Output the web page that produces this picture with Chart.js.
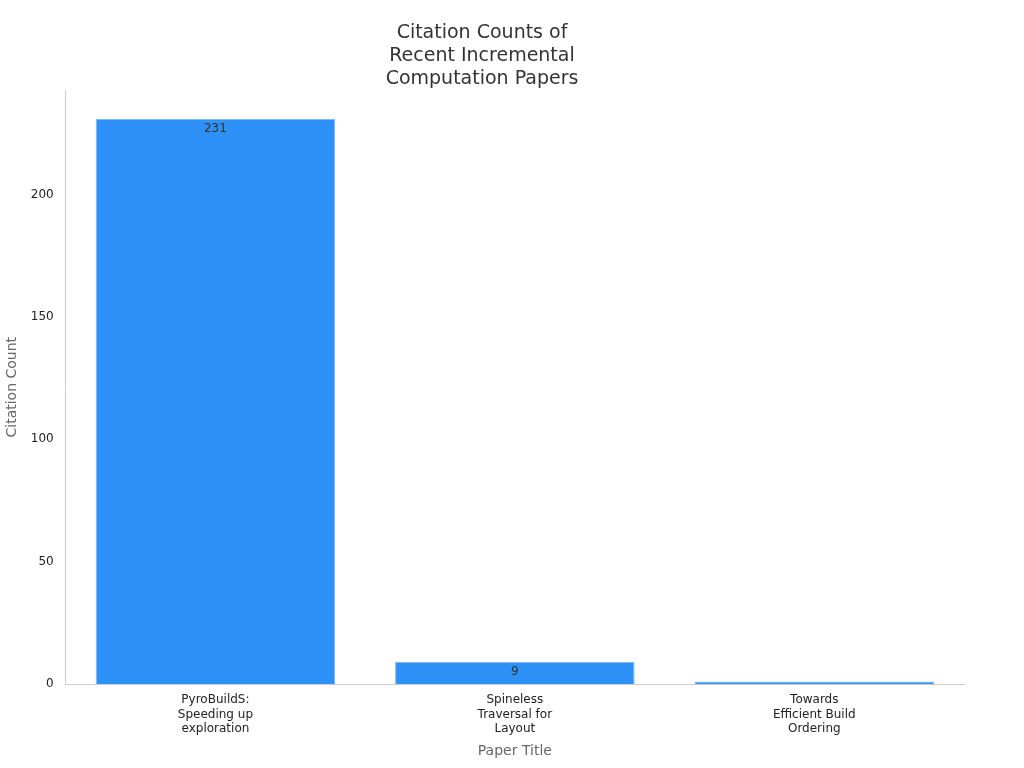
<!DOCTYPE html>
<html>
<head>
<meta charset="utf-8">
<script src="https://cdn.jsdelivr.net/npm/chart.js@4"></script>
<style>
  body { margin: 0; background: #fff; }
</style>
</head>
<body>
<canvas id="myChart" width="1024" height="768"></canvas>
<script>
var categories = [["PyroBuildS:", "Speeding up", "exploration"], ["Spineless", "Traversal for", "Layout"], ["Towards", "Efficient Build", "Ordering"]];
var citations = [231, 9, 1];
var yTicks = [0, 50, 100, 150, 200];

// draws the value just inside the top of each bar (skipped when the bar is too short)
var barLabels = {
  id: "barLabels",
  afterDatasetsDraw(chart) {
    var ctx = chart.ctx;
    var meta = chart.getDatasetMeta(0);
    ctx.save();
    ctx.fillStyle = "#333";
    ctx.font = "12px 'DejaVu Sans'";
    ctx.textAlign = "center";
    ctx.textBaseline = "top";
    meta.data.forEach(function (bar, i) {
      if (bar.base - bar.y < 14) return;
      ctx.fillText(citations[i], bar.x, bar.y + 4);
    });
    ctx.restore();
  }
};

new Chart("myChart", {
  type: "bar",
  data: {
    labels: categories,
    datasets: [{
      data: citations,
      backgroundColor: "#2e91f8",
      borderColor: "#7fb9f5",
      borderWidth: 1,
      barPercentage: 0.8,
      categoryPercentage: 1
    }]
  },
  options: {
    responsive: false,
    animation: false,
    layout: { padding: { left: 0, right: 60, top: 10, bottom: 4 } },
    plugins: {
      legend: { display: false },
      tooltip: { enabled: false },
      title: {
        display: true,
        text: ["Citation Counts of", "Recent Incremental", "Computation Papers"],
        color: "#333",
        font: { family: "DejaVu Sans", size: 19, weight: "normal" },
        padding: { top: 12, bottom: 0 }
      }
    },
    scales: {
      x: {
        grid: { display: false, drawTicks: true, tickLength: 6, tickColor: "#555" },
        border: { color: "#ccc" },
        ticks: { color: "#222", font: { family: "DejaVu Sans", size: 12 }, maxRotation: 0 },
        title: { display: true, text: "Paper Title", color: "#666", font: { family: "DejaVu Sans", size: 14 } }
      },
      y: {
        min: 0,
        max: 242.55,
        afterBuildTicks: function (axis) { axis.ticks = yTicks.map(function (v) { return { value: v }; }); },
        grid: { display: false, drawTicks: true, tickLength: 6, tickColor: "#555" },
        border: { color: "#ccc" },
        ticks: { color: "#222", font: { family: "DejaVu Sans", size: 12 }, padding: 6 },
        title: { display: true, text: "Citation Count", color: "#666", font: { family: "DejaVu Sans", size: 14 } }
      }
    }
  },
  plugins: [barLabels]
});
</script>
</body>
</html>
